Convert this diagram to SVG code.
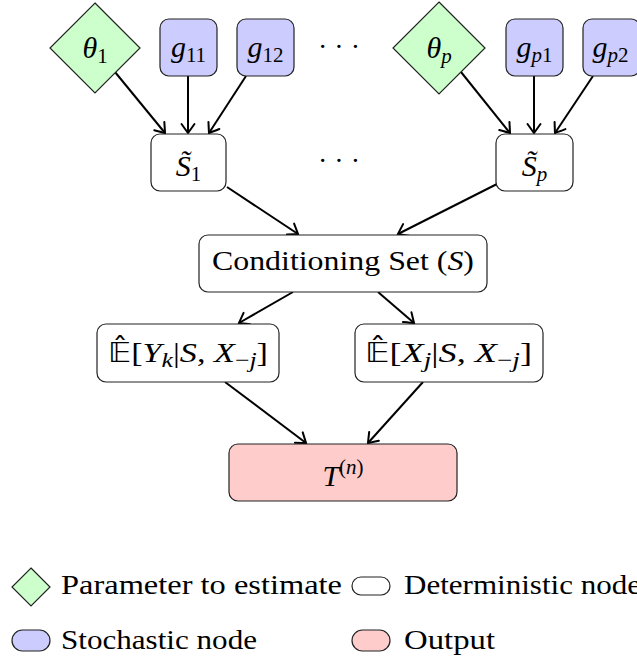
<svg xmlns="http://www.w3.org/2000/svg" width="637" height="658" viewBox="0 0 637 658" font-family="'Liberation Serif', 'DejaVu Serif', serif">
<style>
  .node { stroke:#222; stroke-width:1.2; }
  .param { fill:#ccffcc; }
  .stoch { fill:#ccccff; }
  .det { fill:#ffffff; }
  .out { fill:#ffcccc; }
  text { font-size:28px; fill:#000; }
  .big { font-size:30px; }
  .lbl { text-anchor:middle; }
  .it { font-style:italic; }
  .sub { font-size:21px; }
  .bb { font-family:'DejaVu Sans', sans-serif; font-size:26px; }
  .edge { stroke:#000; stroke-width:2; fill:none; marker-end:url(#arr); }
</style>
<defs>
  <marker id="arr" markerUnits="userSpaceOnUse" markerWidth="16" markerHeight="16" viewBox="-10 -8 12 16" refX="0" refY="0" orient="auto">
    <path d="M -9 -6.5 Q -2 -1.5 0 0 Q -2 1.5 -9 6.5" stroke="#000" stroke-width="2" fill="none" stroke-linecap="round"/>
  </marker>
</defs>

<g id="edges">
  <line class="edge" x1="115" y1="72" x2="165" y2="133"/>
  <line class="edge" x1="188" y1="76" x2="188" y2="133"/>
  <line class="edge" x1="246" y1="76" x2="209" y2="133"/>
  <line class="edge" x1="461" y1="72" x2="510" y2="133"/>
  <line class="edge" x1="534" y1="76" x2="534" y2="133"/>
  <line class="edge" x1="593" y1="76" x2="555" y2="133"/>
  <line class="edge" x1="227" y1="187" x2="298" y2="234"/>
  <line class="edge" x1="497" y1="184" x2="398" y2="234"/>
  <line class="edge" x1="293" y1="292" x2="239" y2="323"/>
  <line class="edge" x1="378" y1="292" x2="414" y2="323"/>
  <line class="edge" x1="225" y1="382" x2="306" y2="443"/>
  <line class="edge" x1="423" y1="382" x2="368" y2="443"/>
</g>

<g id="theta1">
  <polygon class="node param" points="95,3 140,48 95,93 50,48"/>
  <text class="lbl big" x="95" y="58"><tspan class="it">θ</tspan><tspan class="sub" dy="5">1</tspan></text>
</g>
<g id="g11">
  <rect class="node stoch" x="160" y="19" width="57" height="57" rx="9"/>
  <text class="lbl big" x="188.5" y="57"><tspan class="it">g</tspan><tspan class="sub" dy="5">11</tspan></text>
</g>
<g id="g12">
  <rect class="node stoch" x="237" y="19" width="57" height="57" rx="9"/>
  <text class="lbl big" x="265.5" y="57"><tspan class="it">g</tspan><tspan class="sub" dy="5">12</tspan></text>
</g>
<g id="dots1">
  <text class="lbl" x="339" y="56">· · ·</text>
</g>
<g id="thetap">
  <polygon class="node param" points="439,2 485,48 439,94 393,48"/>
  <text class="lbl big" x="439" y="58"><tspan class="it">θ</tspan><tspan class="sub it" dy="5">p</tspan></text>
</g>
<g id="gp1">
  <rect class="node stoch" x="506" y="19" width="57" height="57" rx="9"/>
  <text class="lbl big" x="534.5" y="57"><tspan class="it">g</tspan><tspan class="sub" dy="5"><tspan class="it">p</tspan>1</tspan></text>
</g>
<g id="gp2">
  <rect class="node stoch" x="583" y="19" width="57" height="57" rx="9"/>
  <text class="lbl big" x="610.5" y="57"><tspan class="it">g</tspan><tspan class="sub" dy="5"><tspan class="it">p</tspan>2</tspan></text>
</g>
<g id="S1">
  <rect class="node det" x="151" y="134" width="75" height="57" rx="9"/>
  <text class="lbl big" x="188.5" y="176"><tspan class="it">S̃</tspan><tspan class="sub" dy="5">1</tspan></text>
</g>
<g id="dots2">
  <text class="lbl" x="339" y="170">· · ·</text>
</g>
<g id="Sp">
  <rect class="node det" x="496" y="134" width="77" height="57" rx="9"/>
  <text class="lbl big" x="534.5" y="176"><tspan class="it">S̃</tspan><tspan class="sub it" dy="5">p</tspan></text>
</g>
<g id="cond">
  <rect class="node det" x="199" y="235" width="288" height="57" rx="9"/>
  <text class="lbl" x="343" y="270" textLength="262" lengthAdjust="spacingAndGlyphs">Conditioning Set (<tspan class="it">S</tspan>)</text>
</g>
<g id="EY">
  <rect class="node det" x="97" y="324" width="182" height="58" rx="9"/>
  <text x="108" y="362" textLength="160" lengthAdjust="spacingAndGlyphs"><tspan class="bb">𝔼̂</tspan>[<tspan class="it">Y</tspan><tspan class="sub it" dy="5">k</tspan><tspan dy="-5">|</tspan><tspan class="it">S</tspan>, <tspan class="it">X</tspan><tspan class="sub" dy="5">−<tspan class="it">j</tspan></tspan><tspan dy="-5">]</tspan></text>
</g>
<g id="EX">
  <rect class="node det" x="355" y="324" width="188" height="58" rx="9"/>
  <text x="365" y="362" textLength="167" lengthAdjust="spacingAndGlyphs"><tspan class="bb">𝔼̂</tspan>[<tspan class="it">X</tspan><tspan class="sub it" dy="5">j</tspan><tspan dy="-5">|</tspan><tspan class="it">S</tspan>, <tspan class="it">X</tspan><tspan class="sub" dy="5">−<tspan class="it">j</tspan></tspan><tspan dy="-5">]</tspan></text>
</g>
<g id="T">
  <rect class="node out" x="229" y="444" width="228" height="57" rx="9"/>
  <text class="lbl big" x="343" y="486"><tspan class="it">T</tspan><tspan class="sub" dy="-12">(<tspan class="it">n</tspan>)</tspan></text>
</g>

<g id="legend">
  <polygon class="node param" points="31,568 50,587 31,606 12,587"/>
  <text x="61" y="594" textLength="281" lengthAdjust="spacingAndGlyphs">Parameter to estimate</text>
  <rect class="node det" x="352" y="577" width="38" height="18" rx="9"/>
  <text x="404" y="594" textLength="237" lengthAdjust="spacingAndGlyphs">Deterministic node</text>
  <rect class="node stoch" x="12" y="630" width="38" height="21" rx="10.5"/>
  <text x="61" y="649" textLength="196" lengthAdjust="spacingAndGlyphs">Stochastic node</text>
  <rect class="node out" x="352" y="630" width="38" height="21" rx="10.5"/>
  <text x="404" y="649" textLength="91" lengthAdjust="spacingAndGlyphs">Output</text>
</g>
</svg>
